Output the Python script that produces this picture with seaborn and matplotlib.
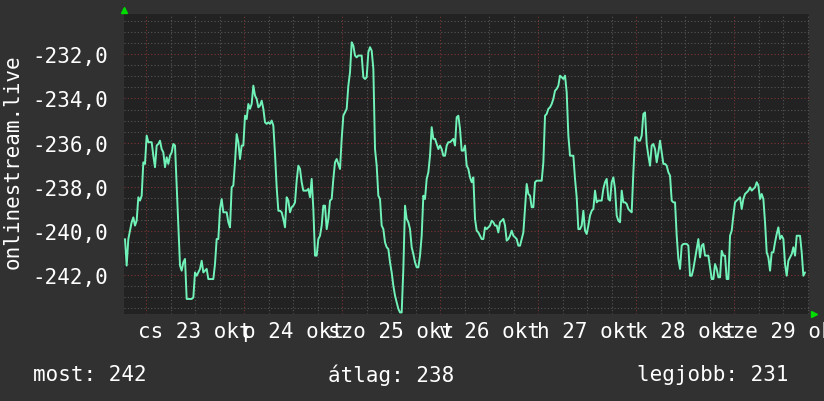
import numpy as np
import matplotlib
matplotlib.use("Agg")
import matplotlib.pyplot as plt
from matplotlib.ticker import FixedLocator, FuncFormatter
import seaborn as sns

# Sampled readings (negated), one every ~24.5 minutes, starting 22 okt ~18:51
vals_a = [-240.36, -241.56, -240.36, -239.98, -239.60, -239.38, -239.75, -239.53, -238.47, -238.62,
          -238.40, -236.89, -236.96, -235.68, -235.98, -235.98, -235.98, -236.59, -237.11, -236.13,
          -236.06, -235.91, -236.29, -236.44, -237.11, -236.66, -236.96, -236.59, -236.44, -236.06,
          -236.13, -237.94, -239.75, -241.56, -241.79, -241.41, -241.26, -243.07, -243.07, -243.07,
          -243.07, -243.00, -241.87, -242.02, -241.87, -241.71, -241.34, -241.87, -241.79, -241.71,
          -242.17, -242.17, -242.17, -242.17, -241.49, -240.36, -240.36, -239.00, -238.55, -239.15,
          -239.15, -239.15, -239.60, -239.83, -238.02, -237.94, -236.89, -235.61, -235.98]
vals_b = [-236.74, -236.13, -236.13, -234.78, -234.93, -234.25, -234.47, -234.25, -233.42, -233.87,
          -234.02, -234.40, -234.32, -234.10, -234.47, -235.08, -235.15, -235.08, -235.15, -235.00,
          -235.23, -236.51, -238.02, -239.08, -239.08, -239.15, -239.45, -239.83, -238.47, -238.62,
          -239.15, -238.92, -238.85, -238.70, -237.72, -237.04, -237.19, -237.79, -238.17, -238.17,
          -238.17, -238.09, -238.47, -237.64, -239.00, -241.11, -241.11, -240.36, -240.21, -239.75,
          -238.85, -238.85, -239.91, -239.45, -238.62, -238.55, -237.64, -236.89, -236.74, -236.96,
          -237.19, -235.83, -234.78, -234.63, -234.47, -233.42, -232.82, -231.46, -231.61]
vals_c = [-232.06, -232.14, -232.06, -232.06, -232.06, -233.04, -233.12, -233.04, -231.91, -231.68,
          -231.84, -232.66, -236.29, -237.04, -238.40, -238.55, -239.75, -239.91, -240.51, -240.73,
          -240.81, -241.41, -241.87, -242.47, -242.92, -243.22, -243.52, -243.68, -243.68, -241.71,
          -238.85, -239.45, -239.60, -239.91, -240.73, -241.04, -241.41, -241.64, -241.64, -241.11,
          -240.21, -238.40, -238.55, -237.64, -237.34, -236.59, -235.30, -235.83, -235.83, -236.06,
          -236.29, -236.13, -236.29, -236.59, -236.59, -236.13, -235.98, -235.98, -235.91, -235.83,
          -236.13, -234.85, -234.78, -235.38, -236.36, -236.36, -236.13, -237.04, -237.19]
vals_d = [-237.57, -237.79, -237.57, -239.45, -239.98, -240.06, -240.21, -240.36, -240.36, -239.83,
          -239.91, -239.83, -239.75, -239.53, -239.60, -239.75, -239.75, -240.06, -239.60, -239.53,
          -239.45, -239.75, -240.43, -240.36, -240.21, -239.98, -240.21, -240.28, -240.36, -240.66,
          -240.66, -240.36, -240.06, -239.00, -237.87, -238.32, -238.40, -238.92, -238.92, -237.79,
          -237.72, -237.72, -237.72, -237.72, -236.89, -234.78, -234.70, -234.47, -234.40, -234.25,
          -234.02, -233.65, -233.57, -233.42, -232.97, -233.04, -233.12, -232.97, -233.72, -235.68,
          -236.59, -236.59, -236.59, -237.64, -238.47, -239.91, -239.91, -239.75, -239.08]
vals_e = [-239.98, -240.13, -239.75, -239.30, -239.08, -239.00, -238.17, -238.70, -238.62, -238.62,
          -238.62, -238.09, -237.79, -237.64, -238.55, -238.62, -237.79, -237.57, -238.09, -239.30,
          -239.53, -239.60, -238.17, -238.70, -238.70, -238.77, -239.00, -239.08, -239.15, -237.34,
          -235.76, -235.76, -235.91, -235.91, -235.68, -234.70, -234.63, -236.06, -236.59, -237.04,
          -236.13, -236.06, -236.29, -236.89, -236.44, -235.91, -236.44, -236.96, -236.96, -237.04,
          -237.34, -237.49, -238.62, -238.70, -238.70, -240.21, -241.26, -241.71, -240.66, -240.58,
          -240.58, -240.58, -240.66, -242.02, -242.02, -241.71, -241.26, -240.81, -240.36]
vals_f = [-241.19, -240.66, -240.58, -241.11, -241.11, -241.11, -241.64, -242.17, -242.17, -241.49,
          -241.71, -242.09, -242.09, -240.89, -241.11, -241.11, -242.17, -242.17, -240.21, -239.98,
          -239.30, -238.70, -238.62, -238.55, -238.47, -239.00, -238.55, -238.32, -238.25, -238.17,
          -238.02, -238.17, -238.09, -238.02, -237.79, -237.94, -238.55, -238.32, -238.55, -239.60,
          -240.96, -241.19, -241.79, -240.96, -240.96, -240.51, -240.13, -239.83, -240.36, -240.21,
          -240.36, -241.49, -242.02, -241.34, -241.19, -241.04, -240.73, -241.11, -240.21, -240.21,
          -240.21, -240.96, -242.02, -241.87]

day_labels = ["cs 23 okt", "p 24 okt", "szo 25 okt", "v 26 okt", "h 27 okt", "k 28 okt", "sze 29 okt"]
y_ticks = [-242, -240, -238, -236, -234, -232]
legend_items = [("most: 242", 33), ("átlag: 238", 328), ("legjobb: 231", 637)]

values = np.array(vals_a + vals_b + vals_c + vals_d + vals_e + vals_f)
# time in days since 23 okt 00:00, RRD step ~24.5 min
t0, step = -0.2143, 0.017007
days = t0 + step * np.arange(len(values))

BG = "#313131"
PLOT_BG = "#222222"
LINE = "#70f2b8"
MINOR = "#555555"
MAJOR = "#7a3333"
FONT = "DejaVu Sans Mono"

sns.set_style("dark")
plt.rcParams["font.family"] = FONT

fig = plt.figure(figsize=(8.24, 4.02), dpi=100, facecolor=BG)
ax = fig.add_axes([124 / 824, 1 - 315 / 402, 685 / 824, 300 / 402])
ax.set_facecolor(PLOT_BG)

ax.set_xlim(-0.2245, 6.765)
ax.set_ylim(-243.75, -230.18)

# grid: minor every 6 h / 0.5, major (red) every day / 2
for x in np.arange(-0.0, 6.8, 0.25):
    is_major = abs(x - round(x)) < 1e-6
    ax.axvline(x, color=MAJOR if is_major else MINOR, lw=0.8, ls=(0, (1, 2)), zorder=1)
for y in np.arange(-243.5, -230.0, 0.5):
    is_major = abs(y / 2 - round(y / 2)) < 1e-6
    ax.axhline(y, color=MAJOR if is_major else MINOR, lw=0.8, ls=(0, (1, 2)), zorder=1)

sns.lineplot(x=days, y=values, ax=ax, color=LINE, lw=1.4, estimator=None, zorder=3)

ax.xaxis.set_major_locator(FixedLocator(np.arange(len(day_labels)) + 0.5))
ax.set_xticklabels(day_labels)
ax.yaxis.set_major_locator(FixedLocator(y_ticks))
ax.yaxis.set_major_formatter(FuncFormatter(lambda v, p: f"{v:.1f}".replace(".", ",")))
ax.tick_params(axis="both", length=0, colors="white", labelsize=15)
ax.tick_params(axis="y", pad=11.5)
ax.tick_params(axis="x", pad=5)
for lbl in ax.get_xticklabels():
    lbl.set_clip_on(False)
ax.set_xlabel("")
ax.set_ylabel("")
for s in ax.spines.values():
    s.set_visible(False)

# green axis arrows
ax.plot([0.0], [1.013], marker="^", color="#00dd00", ms=5, transform=ax.transAxes, clip_on=False)
ax.plot([1.0066], [0.0], marker=">", color="#00dd00", ms=5, transform=ax.transAxes, clip_on=False)

fig.text(13 / 824, 1 - 162 / 402, "onlinestream.live", rotation=90, color="white",
         fontsize=15, ha="center", va="center")
for text, xpx in legend_items:
    fig.text(xpx / 824, 1 - 375 / 402, text, color="white", fontsize=15, ha="left", va="center")

fig.savefig("out.png", dpi=100, facecolor=BG)
